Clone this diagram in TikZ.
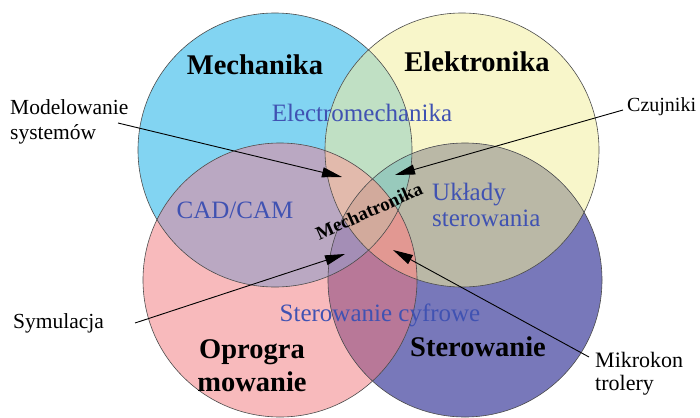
\documentclass[tikz,border=0pt]{standalone}
\usepackage{fontspec}
\setmainfont{Liberation Serif}
\usetikzlibrary{arrows.meta}
\definecolor{cB}{RGB}{130,212,242}
\definecolor{cY}{RGB}{248,246,202}
\definecolor{cP}{RGB}{248,186,188}
\definecolor{cV}{RGB}{120,120,186}
\definecolor{cBY}{RGB}{192,224,196}
\definecolor{cBP}{RGB}{186,168,194}
\definecolor{cBV}{RGB}{150,150,200}
\definecolor{cYP}{RGB}{230,190,180}
\definecolor{cYV}{RGB}{186,184,166}
\definecolor{cPV}{RGB}{184,120,152}
\definecolor{cBYP}{RGB}{226,186,172}
\definecolor{cBYV}{RGB}{152,202,188}
\definecolor{cBPV}{RGB}{164,142,182}
\definecolor{cYPV}{RGB}{226,152,146}
\definecolor{cALL}{RGB}{210,170,156}
\definecolor{txtblue}{RGB}{64,82,178}
\begin{document}
\begin{tikzpicture}[x=1pt,y=-1pt,
  lbl/.style={font=\fontsize{21.5}{25}\selectfont, inner sep=0pt, align=left},
  big/.style={font=\fontsize{28.5}{33}\selectfont\bfseries, inner sep=0pt, align=center},
  mid/.style={font=\fontsize{25}{26}\selectfont, text=txtblue, inner sep=0pt, align=left},
  arr/.style={line width=0.9pt, -{Triangle[length=20pt,width=10pt]}},
  rim/.style={draw=black!70, line width=0.6pt}]
\useasboundingbox (0,0) rectangle (700,417);
\def\cirB{(275,150) circle[radius=137pt]}
\def\cirY{(462,150) circle[radius=137pt]}
\def\cirP{(280,280) circle[radius=137pt]}
\def\cirV{(465,280) circle[radius=137pt]}
% single circles
\fill[cB] \cirB; \fill[cY] \cirY; \fill[cP] \cirP; \fill[cV] \cirV;
% pairs
\begin{scope}\clip \cirB; \fill[cBY] \cirY; \fill[cBP] \cirP; \fill[cBV] \cirV; \end{scope}
\begin{scope}\clip \cirY; \fill[cYP] \cirP; \fill[cYV] \cirV; \end{scope}
\begin{scope}\clip \cirP; \fill[cPV] \cirV; \end{scope}
% triples
\begin{scope}\clip \cirB; \clip \cirY; \fill[cBYP] \cirP; \fill[cBYV] \cirV; \end{scope}
\begin{scope}\clip \cirB; \clip \cirP; \fill[cBPV] \cirV; \end{scope}
\begin{scope}\clip \cirY; \clip \cirP; \fill[cYPV] \cirV; \end{scope}
% all four
\begin{scope}\clip \cirB; \clip \cirY; \clip \cirP; \fill[cALL] \cirV; \end{scope}
% outlines
\draw[rim] \cirB; \draw[rim] \cirY; \draw[rim] \cirP; \draw[rim] \cirV;

% labels
\node[big] (mech) at (255,65) {Mechanika};
\node[big] (elek) at (477,62) {Elektronika};
\node[big] (ster) at (478,347) {Sterowanie};
\node[big] (opro) at (252,366) {Oprogra\\mowanie};
\node[mid] (em) at (362,113) {Electromechanika};
\node[mid] (cad) at (235,210) {CAD/CAM};
\node[mid, anchor=west] (uklady) at (432,205) {Układy\\sterowania};
\node[mid] (cyfr) at (380,315) {Sterowanie cyfrowe};
\node[font=\fontsize{19}{21}\selectfont\bfseries, inner sep=0pt, rotate=24] (mecha) at (369,211) {Mechatronika};
\node[lbl, anchor=west] (model) at (10,121.5) {Modelowanie\\systemów};
\node[lbl, font=\fontsize{20}{22}\selectfont, anchor=west] (czuj) at (627,107) {Czujniki};
\node[lbl, anchor=west] (symu) at (13,323) {Symulacja};
\node[lbl, font=\fontsize{22}{23}\selectfont, anchor=west] (mikro) at (595,373.5) {Mikrokon\\trolery};

% connectors
\coordinate (s1) at (118,123); \coordinate (t1) at (342,177);
\coordinate (s2) at (623,110); \coordinate (t2) at (395,175);
\coordinate (s3) at (135,323); \coordinate (t3) at (345,254);
\coordinate (s4) at (589,357); \coordinate (t4) at (393,250);
\draw[arr] (s1) -- (t1);
\draw[arr] (s2) -- (t2);
\draw[arr] (s3) -- (t3);
\draw[arr] (s4) -- (t4);
\end{tikzpicture}
\end{document}
